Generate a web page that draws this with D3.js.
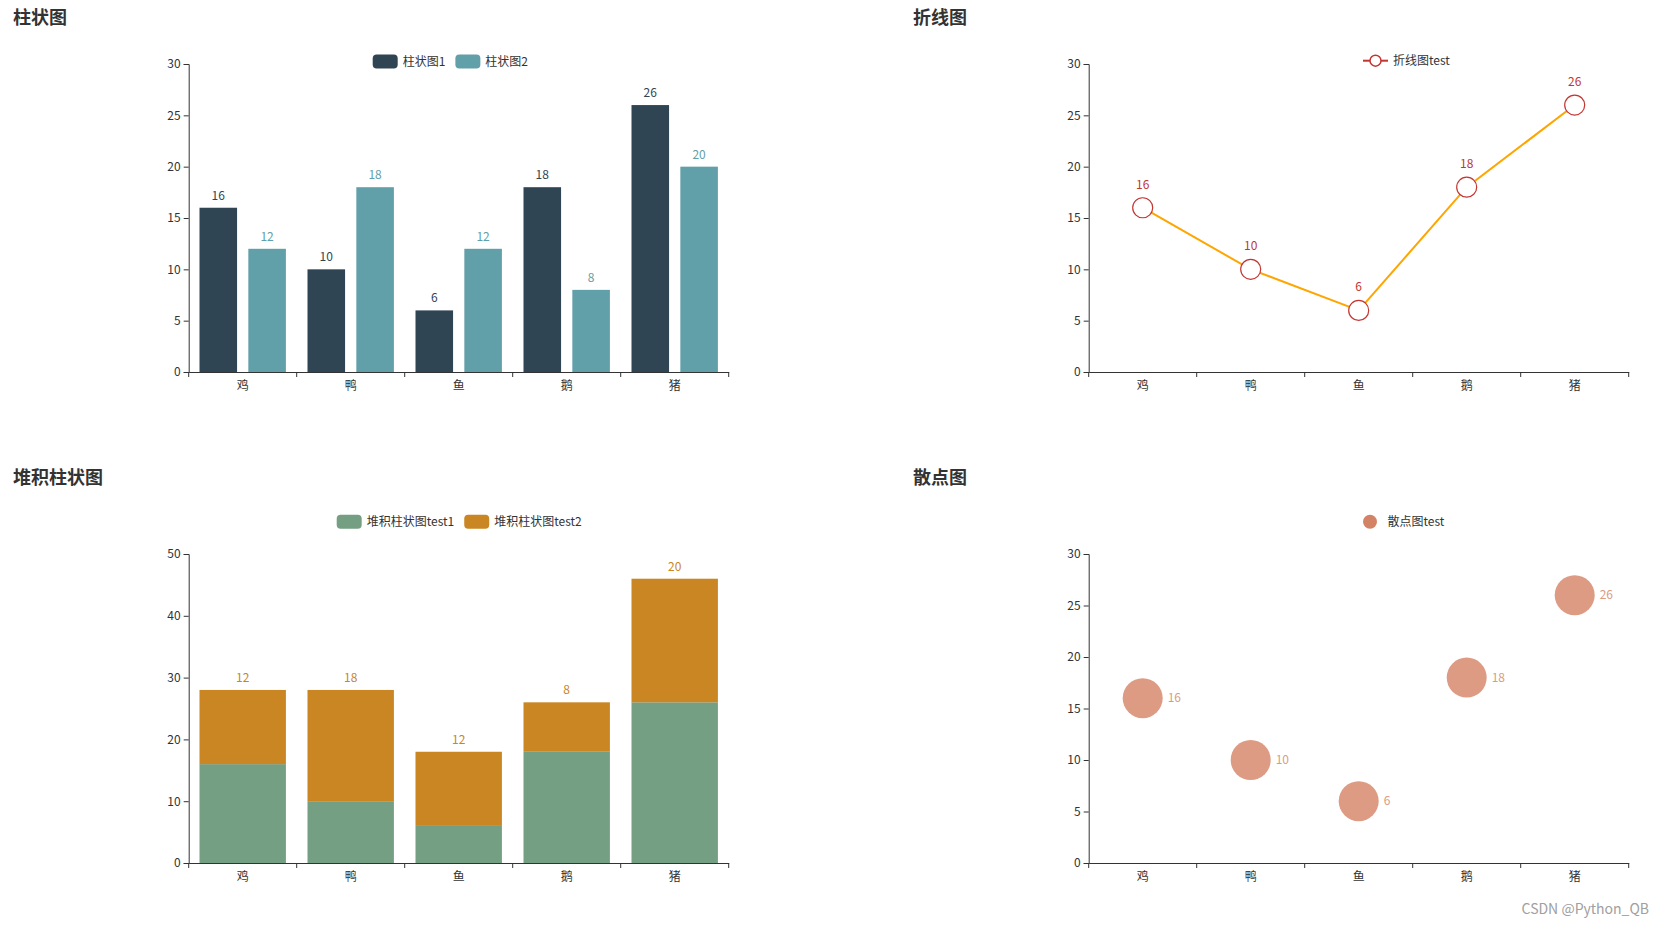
<!DOCTYPE html>
<html>
<head>
<meta charset="utf-8">
<script src="https://d3js.org/d3.v7.min.js"></script>
<title>pyecharts demo</title>
<style>
  body { margin: 0; background: #fff; }
  text { font-family: "Microsoft YaHei", "Noto Sans CJK SC", sans-serif; }
</style>
</head>
<body>
<div id="chart"></div>
<script type="text/javascript">

// data
var categories = ["鸡", "鸭", "鱼", "鹅", "猪"];
var barSeries1 = [16, 10, 6, 18, 26];
var barSeries2 = [12, 18, 12, 8, 20];
var lineSeries = [16, 10, 6, 18, 26];
var stackSeries1 = [16, 10, 6, 18, 26];
var stackSeries2 = [12, 18, 12, 8, 20];
var scatterSeries = [16, 10, 6, 18, 26];
var yTicks30 = [0, 5, 10, 15, 20, 25, 30];
var yTicks50 = [0, 10, 20, 30, 40, 50];

var svg = d3.select("#chart").append("svg")
	.attr("width", 1665)
	.attr("height", 926);

var gridW = 540, gridLeft = 188.7;

// draws title, axes and returns helpers for one panel
function panel(ox, oy, gridTop, gridH, title, yMax, yTicks) {
	var g = svg.append("g").attr("transform", "translate(" + ox + "," + oy + ")");
	g.append("text")
		.attr("x", 13).attr("y", 24)
		.attr("font-size", 18).attr("font-weight", "bold")
		.attr("fill", "#333")
		.text(title);

	var plot = g.append("g").attr("transform", "translate(" + gridLeft + "," + gridTop + ")");
	var xAxisScale = d3.scaleBand().domain(categories).range([0, gridW]);
	var y = d3.scaleLinear().domain([0, yMax]).range([gridH, 0]);

	// y axis
	var yAxis = plot.append("g").call(d3.axisLeft(y).tickValues(yTicks).tickSize(5).tickPadding(3));
	yAxis.select(".domain").attr("stroke", "#333");
	yAxis.selectAll(".tick line").attr("stroke", "#333");
	yAxis.selectAll(".tick text").attr("fill", "#333").attr("font-size", 12)
		.style("font-family", "\"Microsoft YaHei\", \"Noto Sans CJK SC\", sans-serif");

	// x axis: labels at centres, ticks on band boundaries
	var xAxis = plot.append("g").attr("transform", "translate(0," + gridH + ")")
		.call(d3.axisBottom(xAxisScale).tickSize(0).tickPadding(9));
	xAxis.select(".domain").attr("stroke", "#333");
	xAxis.selectAll(".tick text").attr("fill", "#333").attr("font-size", 12)
		.style("font-family", "\"Microsoft YaHei\", \"Noto Sans CJK SC\", sans-serif");
	xAxis.selectAll(".bnd")
		.data(d3.range(categories.length + 1)).enter()
		.append("line")
		.attr("x1", function(i){ return i * xAxisScale.step(); })
		.attr("x2", function(i){ return i * xAxisScale.step(); })
		.attr("y1", 0).attr("y2", 5)
		.attr("stroke", "#333");

	return { g: g, plot: plot, xAxis: xAxisScale, y: y, h: gridH };
}

// legend: items = [{name, color, type}]
function legend(g, x0, cy, items) {
	var x = x0;
	items.forEach(function(it) {
		if (it.type == "rect") {
			g.append("rect").attr("x", x).attr("y", cy - 7)
				.attr("width", 25).attr("height", 14).attr("rx", 4)
				.attr("fill", it.color);
		} else if (it.type == "line") {
			g.append("line").attr("x1", x).attr("x2", x + 25)
				.attr("y1", cy).attr("y2", cy)
				.attr("stroke", it.color).attr("stroke-width", 2);
			g.append("circle").attr("cx", x + 12.5).attr("cy", cy).attr("r", 5.5)
				.attr("fill", "#fff").attr("stroke", it.color).attr("stroke-width", 1.5);
		} else {
			g.append("circle").attr("cx", x + 12.5).attr("cy", cy).attr("r", 7)
				.attr("fill", it.color);
		}
		var t = g.append("text").attr("x", x + 30).attr("y", cy)
			.attr("dy", "0.35em").attr("font-size", 12).attr("fill", "#333")
			.text(it.name);
		x += 30 + t.node().getComputedTextLength() + 10;
	});
}

/* 柱状图 */
var p1 = panel(0, 0, 64, 308, "柱状图", 30, yTicks30);
var xb1 = d3.scaleBand().domain(categories).range([0, gridW]).paddingInner(0.2).paddingOuter(0.1);
var xs1 = d3.scaleBand().domain([0, 1]).range([0, xb1.bandwidth()]).paddingInner(0.3 / 1.3);
var barColors = ["#2f4554", "#61a0a8"];
[barSeries1, barSeries2].forEach(function(series, si) {
	var grp = p1.plot.append("g");
	grp.selectAll("rect").data(series).enter()
		.append("rect")
		.attr("x", function(d, i){ return xb1(categories[i]) + xs1(si); })
		.attr("y", function(d){ return p1.y(d); })
		.attr("width", xs1.bandwidth())
		.attr("height", function(d){ return p1.h - p1.y(d); })
		.attr("fill", barColors[si]);
	grp.selectAll("text").data(series).enter()
		.append("text")
		.attr("x", function(d, i){ return xb1(categories[i]) + xs1(si) + xs1.bandwidth() / 2; })
		.attr("y", function(d){ return p1.y(d) - 8; })
		.attr("text-anchor", "middle").attr("font-size", 12)
		.attr("fill", barColors[si])
		.text(function(d){ return d; });
});
legend(p1.g, 372.7, 61.5, [
	{ name: "柱状图1", color: barColors[0], type: "rect" },
	{ name: "柱状图2", color: barColors[1], type: "rect" }
]);

/* 折线图 */
var p2 = panel(900, 0, 64, 308, "折线图", 30, yTicks30);
var cx2 = function(i){ return p2.xAxis(categories[i]) + p2.xAxis.bandwidth() / 2; };
var lineGen = d3.line()
	.x(function(d, i){ return cx2(i); })
	.y(function(d){ return p2.y(d); });
p2.plot.append("path").datum(lineSeries)
	.attr("d", lineGen)
	.attr("fill", "none").attr("stroke", "orange").attr("stroke-width", 2);
p2.plot.selectAll(".pt").data(lineSeries).enter()
	.append("circle")
	.attr("cx", function(d, i){ return cx2(i); })
	.attr("cy", function(d){ return p2.y(d); })
	.attr("r", 10)
	.attr("fill", "#fff").attr("stroke", "#c23531").attr("stroke-width", 1.2);
p2.plot.selectAll(".lbl").data(lineSeries).enter()
	.append("text")
	.attr("x", function(d, i){ return cx2(i); })
	.attr("y", function(d){ return p2.y(d) - 19; })
	.attr("text-anchor", "middle").attr("font-size", 12)
	.attr("fill", "#c23531")
	.text(function(d){ return d; });
legend(p2.g, 463, 60.7, [
	{ name: "折线图test", color: "#c23531", type: "line" }
]);

/* 堆积柱状图 */
var p3 = panel(0, 460, 94, 309, "堆积柱状图", 50, yTicks50);
var xb3 = d3.scaleBand().domain(categories).range([0, gridW]).paddingInner(0.2).paddingOuter(0.1);
var stackColors = ["#749f83", "#ca8622"];
p3.plot.selectAll(".s1").data(stackSeries1).enter()
	.append("rect")
	.attr("x", function(d, i){ return xb3(categories[i]); })
	.attr("y", function(d){ return p3.y(d); })
	.attr("width", xb3.bandwidth())
	.attr("height", function(d){ return p3.h - p3.y(d); })
	.attr("fill", stackColors[0]);
p3.plot.selectAll(".s2").data(stackSeries2).enter()
	.append("rect")
	.attr("x", function(d, i){ return xb3(categories[i]); })
	.attr("y", function(d, i){ return p3.y(d + stackSeries1[i]); })
	.attr("width", xb3.bandwidth())
	.attr("height", function(d){ return p3.h - p3.y(d); })
	.attr("fill", stackColors[1]);
p3.plot.selectAll(".l2").data(stackSeries2).enter()
	.append("text")
	.attr("x", function(d, i){ return xb3(categories[i]) + xb3.bandwidth() / 2; })
	.attr("y", function(d, i){ return p3.y(d + stackSeries1[i]) - 8; })
	.attr("text-anchor", "middle").attr("font-size", 12)
	.attr("fill", stackColors[1])
	.text(function(d){ return d; });
legend(p3.g, 336.7, 61.7, [
	{ name: "堆积柱状图test1", color: stackColors[0], type: "rect" },
	{ name: "堆积柱状图test2", color: stackColors[1], type: "rect" }
]);

/* 散点图 */
var p4 = panel(900, 460, 94, 309, "散点图", 30, yTicks30);
var cx4 = function(i){ return p4.xAxis(categories[i]) + p4.xAxis.bandwidth() / 2; };
p4.plot.selectAll(".dot").data(scatterSeries).enter()
	.append("circle")
	.attr("cx", function(d, i){ return cx4(i); })
	.attr("cy", function(d){ return p4.y(d); })
	.attr("r", 20)
	.attr("fill", "#d48265").attr("opacity", 0.8);
p4.plot.selectAll(".sl").data(scatterSeries).enter()
	.append("text")
	.attr("x", function(d, i){ return cx4(i) + 25; })
	.attr("y", function(d){ return p4.y(d); })
	.attr("dy", "0.35em").attr("font-size", 12)
	.attr("fill", "#d48265").attr("opacity", 0.8)
	.text(function(d){ return d; });
legend(p4.g, 457.5, 61.7, [
	{ name: "散点图test", color: "#d48265", type: "circle" }
]);

// watermark
svg.append("text")
	.attr("x", 1649).attr("y", 914)
	.attr("text-anchor", "end").attr("font-size", 14)
	.attr("fill", "#a0a0a0")
	.text("CSDN @Python_QB");

</script>
</body>
</html>
